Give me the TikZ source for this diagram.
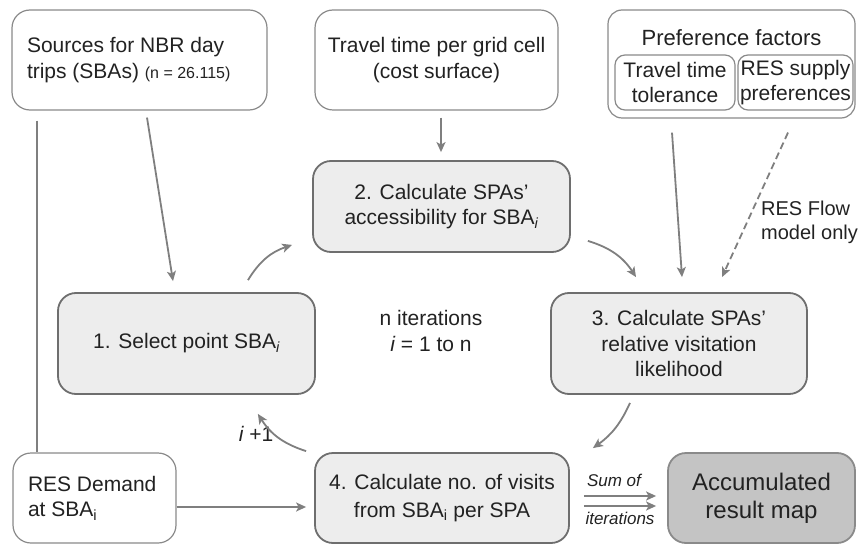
\documentclass[tikz,border=0pt]{standalone}
\usepackage{fontspec}
\setmainfont{Liberation Sans}
\usetikzlibrary{arrows.meta}

\definecolor{boxline}{HTML}{8A8A8A}
\definecolor{stepline}{HTML}{6E6E6E}
\definecolor{stepfill}{HTML}{EDEDED}
\definecolor{mapfill}{HTML}{C4C4C4}
\definecolor{arrowgray}{HTML}{7F7F7F}
\definecolor{textgray}{HTML}{222222}

%% pedice i (corsivo / diritto)
\newcommand{\subit}{\textsubscript{\itshape i}}
\newcommand{\subup}{\textsubscript{i}}

\begin{document}
\begin{tikzpicture}[x=1pt, y=-1pt,
    plain/.style={text=textgray, font=\fontsize{21}{25.5}\selectfont},
    inbox/.style={plain, draw=boxline, line width=1.2pt, fill=white,
        rounded corners=18pt, inner sep=0pt, align=center},
    stepbox/.style={plain, draw=stepline, line width=1.8pt, fill=stepfill,
        rounded corners=18pt, inner sep=0pt, align=center},
    flow/.style={draw=arrowgray, line width=1.8pt,
        -{Stealth[length=10pt,width=9pt,inset=2.5pt]}},
]
\useasboundingbox (0,0) rectangle (858,545);

%% === INPUT (riga in alto) ===
\node[inbox, minimum width=255pt, minimum height=100pt, text width=225pt, align=flush left] (srcA) at (139.5,60)
    {Sources for NBR day\\trips (SBAs) {\fontsize{16}{18}\selectfont(n = 26.115)}};
\node[inbox, minimum width=243pt, minimum height=100pt] (cost) at (436.5,60)
    {Travel time per grid cell\\(cost surface)};

\node[inbox, minimum width=247pt, minimum height=108pt, rounded corners=14pt] (pref) at (731.5,64) {};
\node[plain, font=\fontsize{22}{26}\selectfont] (preflbl) at (731.5,38) {Preference factors};
\node[inbox, minimum width=120pt, minimum height=55pt, rounded corners=10pt] (tol) at (675,82.5)
    {Travel time\\tolerance};
\node[inbox, minimum width=115pt, minimum height=55pt, rounded corners=10pt] (supply) at (795.5,82.5)
    {RES supply\\preferences};

%% === CICLO: passi 1-4 ===
\node[stepbox, minimum width=257pt, minimum height=91pt]  (acc)    at (441.5,206.5)
    {2. Calculate SPAs'\\accessibility for SBA\subit};
\node[stepbox, minimum width=257pt, minimum height=101pt] (sel)    at (186.5,343.5)
    {1. Select point SBA\subit};
\node[stepbox, minimum width=256pt, minimum height=101pt] (lik)    at (679,343.5)
    {3. Calculate SPAs'\\relative visitation\\likelihood};
\node[stepbox, minimum width=254pt, minimum height=90pt,
    font=\fontsize{21}{28}\selectfont]  (visits) at (442,498)
    {4. Calculate no. of visits\\from SBA\subup{} per SPA};

\node[inbox, minimum width=163pt, minimum height=90pt, text width=133pt, align=flush left] (dem) at (94.5,498)
    {RES Demand\\at SBA\subup};
\node[stepbox, fill=mapfill, draw=boxline, minimum width=187pt, minimum height=90pt,
    font=\fontsize{24}{28}\selectfont] (result) at (761.5,498)
    {Accumulated\\result map};

%% testi liberi
\node[plain, align=center] (iter) at (431,331) {n iterations\\{\itshape i} = 1 to n};
\node[plain] (incr) at (256,434) {{\itshape i} +1};
\node[plain, font=\fontsize{20}{24}\selectfont, align=flush left, anchor=west, inner sep=0pt] (flowonly) at (761,222)
    {RES Flow\\model only};
\node[plain, font=\fontsize{17}{20}\selectfont\itshape] (sumof) at (614,480) {Sum of};
\node[plain, font=\fontsize{17}{20}\selectfont\itshape] (iterlbl) at (620,518) {iterations};

%% === FRECCE ===
\draw[flow] ([xshift=7.5pt,yshift=-7pt]srcA.south) -- ([xshift=-13.5pt,yshift=11pt]sel.north);
\draw[draw=arrowgray, line width=1.8pt] ([xshift=-102.5pt,yshift=-10pt]srcA.south) -- ([xshift=-57.5pt]dem.north);
\draw[flow] ([xshift=4.5pt,yshift=-7pt]cost.south) -- ([xshift=-0.5pt,yshift=8pt]acc.north);

\draw[flow] ([xshift=61.5pt,yshift=12pt]sel.north) to[bend left=20] ([xshift=-20pt,yshift=8pt]acc.south west);
\draw[flow] ([xshift=17pt,yshift=12pt]acc.south east) to[bend left=20] ([xshift=-43pt,yshift=15pt]lik.north);
\draw[flow] ([xshift=-49pt,yshift=-8pt]lik.south) to[bend left=15] ([xshift=23pt,yshift=4pt]visits.north east);
\draw[flow] ([xshift=-8pt,yshift=1pt]visits.north west) to[bend left=20] ([xshift=-58pt,yshift=-19pt]sel.south east);

\draw[flow] ([xshift=-3pt,yshift=-22pt]tol.south) -- ([xshift=3pt,yshift=15pt]lik.north);
\draw[flow, dash pattern=on 7pt off 4pt] ([xshift=-7.5pt,yshift=-22pt]supply.south) -- ([xshift=43pt,yshift=15pt]lik.north);

\draw[flow] ([yshift=-9pt]dem.east) -- ([xshift=-8pt,yshift=-9pt]visits.west);

%% somma delle iterazioni (doppia freccia)
\draw[flow] ([xshift=14pt,yshift=2pt]visits.east) -- ([xshift=-11pt,yshift=2pt]result.west);
\draw[flow] ([xshift=14pt,yshift=-8pt]visits.east) -- ([xshift=-11pt,yshift=-8pt]result.west);

\end{tikzpicture}
\end{document}
